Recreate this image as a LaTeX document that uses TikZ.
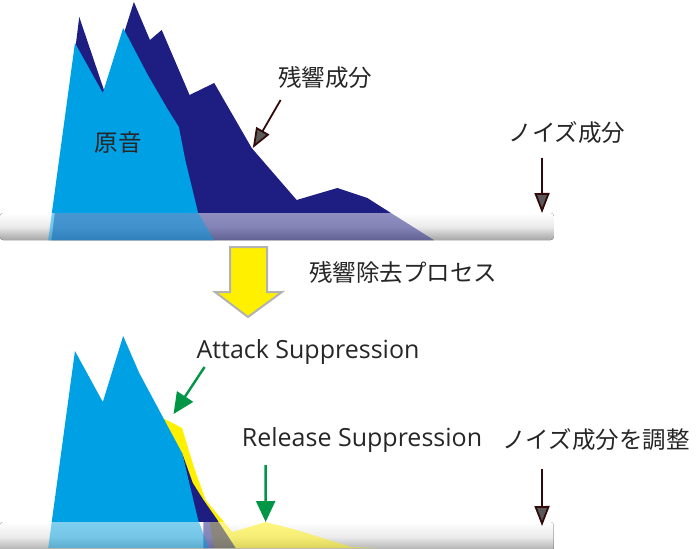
\documentclass[tikz,border=0pt]{standalone}
\usepackage{fontspec}
\setmainfont{Noto Sans CJK JP}
\newfontfamily\latinfont{Open Sans}
\usetikzlibrary{arrows.meta, positioning, calc}

\definecolor{lightwave}{RGB}{0,160,228}
\definecolor{darkwave}{RGB}{30,30,130}
\definecolor{supp}{RGB}{255,240,0}
\definecolor{suppgreen}{RGB}{0,150,70}
\definecolor{tipred}{RGB}{50,10,10}

\begin{document}
\begin{tikzpicture}[
    x=1pt, y=-1pt,
    lbl/.style={font=\fontsize{23.5}{26}\selectfont, text=black!85, inner sep=0pt},
    latin/.style={font=\latinfont\fontsize{25}{28}\selectfont, text=black!85, inner sep=0pt},
    noisearrow/.style={draw=tipred, line width=1.8pt, -{Triangle[length=20pt, width=15pt, fill=black!65]}},
    greenarrow/.style={draw=suppgreen, line width=2.4pt, -{Triangle[length=21pt, width=19pt]}},
    band/.style={rounded corners=3pt, top color=white, bottom color=black!35, middle color=black!8}
]
    \useasboundingbox (0,0) rectangle (700,548);

    \begin{scope}[xscale=1.071]
    % upper waveform
    \fill[darkwave] (48,240) -- (74,17) -- (98,93) -- (125,2) -- (140,40) -- (151,30) -- (177,95)
        -- (200,83) -- (235,148) -- (277,200) -- (315,188) -- (343,198) -- (365,213) -- (405,240) -- cycle;
    \fill[lightwave] (45,240) -- (70,43) -- (96,93) -- (115,28) -- (138,75) -- (157,110) -- (167,127)
        -- (173,160) -- (185,213) -- (200,240) -- cycle;
    \fill[band] (0,213) rectangle (517,240);
    \begin{scope}[opacity=0.5]
        \clip (0,213) rectangle (517,240);
        \fill[darkwave] (48,240) -- (74,17) -- (200,83) -- (365,213) -- (405,240) -- cycle;
        \fill[lightwave] (45,240) -- (70,43) -- (173,160) -- (185,213) -- (200,240) -- cycle;
    \end{scope}
    \coordinate (reverbtip) at (236,148);
    \coordinate (noisetip) at (506,213);
    \draw[noisearrow] (262,100) -- (reverbtip);
    \draw[noisearrow] (506,158) -- (noisetip);

    % lower waveform
    \fill[supp] (130,373) -- (143,413) -- (170,428) -- (177,453) -- (182,470) -- (192,500)
        -- (217,532) -- (248,522) -- (277,530) -- (328,547) -- (352,548) -- (200,548) -- cycle;
    \fill[darkwave] (170,453) -- (180,483) -- (190,500) -- (203,520) -- (215,548) -- (190,548) -- cycle;
    \fill[lightwave] (45,548) -- (70,351) -- (96,402) -- (115,336) -- (130,373) -- (170,453)
        -- (185,520) -- (195,548) -- cycle;
    \fill[band] (0,522) rectangle (517,552);
    \begin{scope}[opacity=0.5]
        \clip (0,522) rectangle (517,548);
        \fill[supp] (192,500) -- (217,532) -- (248,522) -- (277,530) -- (328,547) -- (352,548) -- (200,548) -- cycle;
        \fill[darkwave] (190,500) -- (203,520) -- (220,548) -- (190,548) -- cycle;
        \fill[lightwave] (45,548) -- (70,351) -- (185,520) -- (195,548) -- cycle;
    \end{scope}
    \coordinate (attacktip) at (162,414);
    \coordinate (releasetip) at (248,522);
    \coordinate (noisetip2) at (506,526);
    \draw[greenarrow] (191,367) -- (attacktip);
    \draw[greenarrow] (248,465) -- (releasetip);
    \draw[noisearrow] (506,469) -- (noisetip2);
    \end{scope}

    \node[lbl] (orig) at (118,143) {原音};
    \node[lbl] (reverb) at (325,78) {残響成分};
    \node[lbl] (noise) at (567,133) {ノイズ成分};

    % process arrow
    \draw[draw=black!30, fill=supp, line width=2pt] (230,247) -- (267,247) -- (267,292) -- (282,292)
        -- (248,317) -- (215,292) -- (230,292) -- cycle;
    \node[lbl] (proclbl) at (403,273) {残響除去プロセス};

    \node[latin] (attack) at (308,352) {Attack Suppression};
    \node[latin] (release) at (362,440) {Release Suppression};
    \node[lbl] (adjust) at (596,440) {ノイズ成分を調整};
\end{tikzpicture}
\end{document}
